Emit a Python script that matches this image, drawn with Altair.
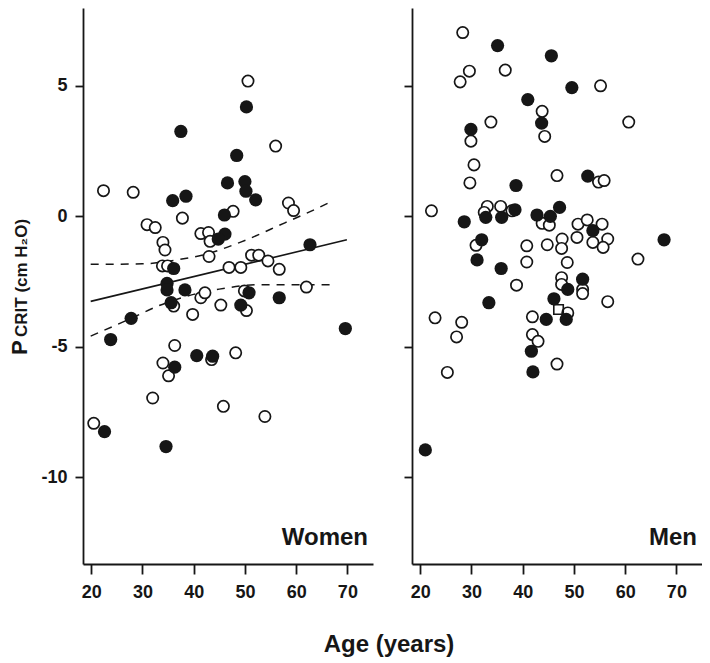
import altair as alt
import pandas as pd

# ---------------- Women ----------------
w_open_age = [50.6, 56.0, 22.4, 28.2, 37.8, 47.7, 58.5, 59.5, 30.9, 32.5, 34.0, 34.4,
              41.4, 42.9, 43.2, 43.0, 33.9, 34.9, 46.9, 49.2, 51.3, 52.7, 54.5, 56.7,
              62.0, 41.4, 42.2, 45.3, 39.8, 36.1, 49.9, 50.3, 36.3, 34.0, 35.1, 43.5,
              48.2, 32.0, 45.8, 53.9, 20.5]
w_open_p = [5.17, 2.68, 0.97, 0.91, -0.08, 0.18, 0.50, 0.21, -0.33, -0.44, -1.01, -1.30,
            -0.67, -0.63, -0.97, -1.55, -1.91, -1.91, -1.97, -1.97, -1.50, -1.50, -1.72, -2.04,
            -2.72, -3.13, -2.94, -3.41, -3.77, -3.45, -2.87, -3.62, -4.96, -5.63, -6.12, -5.50,
            -5.24, -6.97, -7.29, -7.68, -7.94]
w_fill_age = [50.3, 37.5, 48.4, 46.6, 50.0, 50.2, 52.1, 35.9, 38.5, 46.0, 46.1, 44.8,
              62.7, 36.1, 34.8, 34.8, 38.3, 35.6, 50.8, 49.2, 56.7, 27.8, 23.8, 69.6,
              40.6, 43.7, 36.3, 22.6, 34.6]
w_fill_p = [4.18, 3.24, 2.32, 1.27, 1.32, 0.95, 0.62, 0.59, 0.76, 0.04, -0.69, -0.88,
            -1.10, -2.01, -2.58, -2.83, -2.83, -3.32, -2.94, -3.41, -3.13, -3.92, -4.73, -4.31,
            -5.35, -5.37, -5.79, -8.26, -8.83]

# regression line and confidence band (women)
fit_age = [19.9, 69.9]
fit_p = [-3.27, -0.91]
up_age = [19.9, 30.0, 37.0, 41.6, 49.3, 57.8, 62.3, 67.0]
up_p = [-1.85, -1.83, -1.67, -1.50, -0.99, -0.26, 0.13, 0.57]
lo_age = [19.9, 28.0, 33.0, 40.0, 45.0, 53.0, 67.0]
lo_p = [-4.60, -3.90, -3.45, -3.00, -2.80, -2.63, -2.63]

# ---------------- Men ----------------
m_open_age = [28.3, 29.6, 27.8, 36.6, 55.2, 43.8, 33.8, 60.7, 29.9, 44.3, 30.5, 29.7,
              46.7, 54.8, 55.9, 22.2, 33.1, 32.5, 35.7, 37.9, 43.8, 45.2, 50.8, 52.6,
              55.5, 50.6, 53.7, 56.6, 55.7, 47.7, 47.6, 44.8, 40.8, 30.9, 40.8, 48.7,
              62.5, 47.6, 47.6, 51.7, 51.7, 38.8, 56.6, 22.9, 28.1, 27.1, 25.3, 41.9,
              41.9, 43.0, 46.7, 48.8]
m_open_p = [7.03, 5.55, 5.14, 5.59, 4.99, 4.01, 3.60, 3.60, 2.87, 3.05, 1.96, 1.27,
            1.55, 1.30, 1.36, 0.20, 0.37, 0.14, 0.37, 0.20, -0.28, -0.35, -0.31, -0.15,
            -0.31, -0.82, -1.01, -0.88, -1.20, -0.88, -1.24, -1.10, -1.14, -1.12, -1.76, -1.78,
            -1.65, -2.36, -2.62, -2.81, -2.97, -2.65, -3.28, -3.90, -4.07, -4.63, -5.99, -3.86,
            -4.54, -4.80, -5.67, -3.71]
m_fill_age = [35.1, 45.6, 49.6, 41.0, 43.7, 29.9, 52.7, 38.7, 38.5, 47.2, 32.8, 35.9,
              42.8, 45.4, 28.6, 53.7, 67.6, 32.0, 31.1, 35.8, 51.7, 48.8, 33.4, 46.1,
              44.6, 48.5, 41.7, 42.0, 21.0]
m_fill_p = [6.53, 6.14, 4.92, 4.46, 3.56, 3.32, 1.53, 1.17, 0.24, 0.33, -0.05, -0.05,
            0.04, -0.01, -0.22, -0.56, -0.91, -0.91, -1.68, -2.01, -2.42, -2.81, -3.32, -3.17,
            -3.96, -3.96, -5.18, -5.97, -8.96]
m_square_age = [47.0]
m_square_p = [-3.58]

x_ticks = [20, 30, 40, 50, 60, 70]
y_ticks = [-10, -5, 0, 5]

FONT = "Liberation Sans"
INK = "#161616"
XDOM = [18.4, 75.0]
YDOM = [-13.33, 7.97]
W, H = 290, 556


def xenc():
    return alt.X("age:Q", scale=alt.Scale(domain=XDOM, nice=False, zero=False),
                 axis=alt.Axis(values=x_ticks, title=None, format="d", tickSize=10,
                               labelPadding=9))


def yenc(labels):
    return alt.Y("p:Q", scale=alt.Scale(domain=YDOM, nice=False, zero=False),
                 axis=alt.Axis(values=y_ticks, title=None, labels=labels, tickSize=8,
                               labelPadding=8, labelExpr="'' + datum.value"))


def points(open_age, open_p, fill_age, fill_p, labels):
    d_open = pd.DataFrame({"age": open_age, "p": open_p})
    d_fill = pd.DataFrame({"age": fill_age, "p": fill_p})
    o = alt.Chart(d_open).mark_point(shape="circle", filled=False, fill="white",
                                     fillOpacity=1, stroke=INK, strokeWidth=1.7,
                                     size=128, opacity=1).encode(x=xenc(), y=yenc(labels))
    f = alt.Chart(d_fill).mark_point(shape="circle", filled=True, color=INK,
                                     size=175, opacity=1).encode(x=xenc(), y=yenc(labels))
    return [o, f]


def label(txt):
    return alt.Chart(pd.DataFrame({"t": [txt]})).mark_text(
        font=FONT, fontSize=24, fontWeight="bold", color=INK, align="right",
        baseline="alphabetic").encode(text="t:N", x=alt.value(W - 5), y=alt.value(537))


# Women panel
fit = alt.Chart(pd.DataFrame({"age": fit_age, "p": fit_p})).mark_line(
    color=INK, strokeWidth=1.6).encode(x=xenc(), y=yenc(True))
up = alt.Chart(pd.DataFrame({"age": up_age, "p": up_p})).mark_line(
    color=INK, strokeWidth=1.5, strokeDash=[8, 7], interpolate="monotone").encode(x=xenc(), y=yenc(True))
lo = alt.Chart(pd.DataFrame({"age": lo_age, "p": lo_p})).mark_line(
    color=INK, strokeWidth=1.5, strokeDash=[8, 7], interpolate="monotone").encode(x=xenc(), y=yenc(True))

ytitle_p = alt.Chart(pd.DataFrame({"t": ["P"]})).mark_text(
    font=FONT, fontSize=22, fontWeight="bold", color=INK, angle=270, align="left",
    baseline="alphabetic").encode(text="t:N", x=alt.value(-56), y=alt.value(347))
ytitle_rest = alt.Chart(pd.DataFrame({"t": ["CRIT (cm H\u2082O)"]})).mark_text(
    font=FONT, fontSize=17, fontWeight="bold", color=INK, angle=270, align="left",
    baseline="alphabetic").encode(text="t:N", x=alt.value(-56), y=alt.value(329))
xtitle = alt.Chart(pd.DataFrame({"t": ["Age (years)"]})).mark_text(
    font=FONT, fontSize=24, fontWeight="bold", color=INK, align="center",
    baseline="alphabetic").encode(text="t:N", x=alt.value(306), y=alt.value(644))

women = alt.layer(fit, up, lo, *points(w_open_age, w_open_p, w_fill_age, w_fill_p, True),
                  label("Women"), ytitle_p, ytitle_rest, xtitle).properties(width=W, height=H)

sq = alt.Chart(pd.DataFrame({"age": m_square_age, "p": m_square_p})).mark_point(
    shape="square", filled=False, stroke=INK, strokeWidth=1.6, size=90, opacity=1
).encode(x=xenc(), y=yenc(False))

men = alt.layer(*points(m_open_age, m_open_p, m_fill_age, m_fill_p, False), sq,
                label("Men")).properties(width=W, height=H)

chart = alt.hconcat(women, men, spacing=39, bounds="flush").properties(
    padding={"left": 1, "top": 0, "right": 0, "bottom": 0}
).configure_view(stroke=None).configure_axis(
    grid=False, domainColor=INK, domainWidth=1.8, tickColor=INK, tickWidth=1.8,
    labelFont=FONT, labelFontSize=18, labelFontWeight="bold", labelColor=INK
)

chart.save("out.html", embed_options={"renderer": "svg", "actions": False})
